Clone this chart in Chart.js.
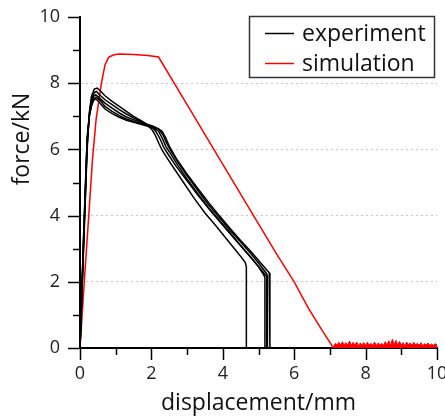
<!DOCTYPE html>
<html>
<head>
<meta charset="utf-8">
<script src="https://cdn.jsdelivr.net/npm/chart.js@4"></script>
<style>
html,body{margin:0;padding:0;background:#fff;}
#wrap{position:relative;width:445px;height:419px;}
</style>
</head>
<body>
<div id="wrap"><canvas id="c" width="445" height="419"></canvas></div>
<script>
// ---- data ----
const xTicks = [0, 2, 4, 6, 8, 10];
const yTicks = [0, 2, 4, 6, 8, 10];
const seriesNames = ['experiment', 'simulation'];

const exp1X = [0,0.1,0.2,0.26,0.32,0.4,0.48,0.56,0.7,0.9,1.1,1.3,1.5,1.7,1.9,2.05,2.2,2.3,2.4,2.5,2.7,3.0,3.3,3.6,3.9,4.2,4.5,4.8,5.1,5.3,5.32,5.32];
const exp1Y = [0,3.0,6.0,7.1,7.6,7.82,7.85,7.78,7.62,7.45,7.3,7.15,7.0,6.88,6.74,6.66,6.62,6.55,6.35,6.1,5.72,5.25,4.82,4.4,4.0,3.62,3.25,2.9,2.52,2.27,2.2,0];

const exp2X = [0,0.1,0.2,0.26,0.32,0.4,0.46,0.54,0.7,0.9,1.1,1.3,1.5,1.7,1.9,2.05,2.2,2.32,2.42,2.55,2.75,3.0,3.3,3.6,3.9,4.2,4.5,4.8,5.05,5.22,5.25,5.25];
const exp2Y = [0,3.1,6.1,7.05,7.5,7.72,7.75,7.66,7.5,7.35,7.2,7.07,6.95,6.85,6.75,6.7,6.62,6.45,6.2,5.95,5.6,5.2,4.76,4.33,3.94,3.56,3.2,2.83,2.5,2.26,2.18,0];

const exp3X = [0,0.1,0.2,0.26,0.32,0.38,0.44,0.52,0.7,0.9,1.1,1.3,1.5,1.7,1.9,2.05,2.2,2.3,2.4,2.55,2.75,3.0,3.3,3.6,3.9,4.2,4.5,4.8,5.0,5.15,5.18,5.18];
const exp3Y = [0,3.2,6.2,7.0,7.4,7.6,7.65,7.58,7.4,7.25,7.1,6.98,6.9,6.82,6.73,6.66,6.55,6.35,6.1,5.85,5.5,5.1,4.66,4.24,3.86,3.48,3.1,2.72,2.45,2.2,2.12,0];

const exp4X = [0,0.1,0.2,0.26,0.32,0.38,0.45,0.55,0.7,0.9,1.1,1.3,1.5,1.7,1.9,2.05,2.15,2.25,2.35,2.5,2.7,3.0,3.3,3.6,3.9,4.2,4.5,4.8,5.05,5.2,5.23,5.23];
const exp4Y = [0,3.3,6.3,7.0,7.35,7.52,7.58,7.5,7.3,7.15,7.02,6.92,6.85,6.78,6.72,6.64,6.5,6.3,6.05,5.8,5.48,5.05,4.62,4.22,3.84,3.46,3.09,2.72,2.4,2.2,2.14,0];

const exp5X = [0,0.1,0.2,0.26,0.32,0.38,0.44,0.52,0.7,0.9,1.1,1.3,1.5,1.7,1.9,2.0,2.1,2.2,2.3,2.45,2.65,2.9,3.2,3.5,3.8,4.1,4.35,4.55,4.63,4.66,4.66];
const exp5Y = [0,3.4,6.35,7.0,7.3,7.48,7.53,7.45,7.22,7.08,6.97,6.88,6.82,6.76,6.7,6.62,6.45,6.2,5.98,5.72,5.4,5.0,4.52,4.08,3.7,3.3,2.97,2.7,2.58,2.45,0];

const simX = [0,0.12,0.245,0.35,0.45,0.6,0.7,0.8,0.95,1.1,1.5,1.9,2.2,3.0,4.0,5.0,5.5,6.0,6.4,6.8,7.1];
const simY = [0,2.0,4.0,5.7,6.9,8.0,8.55,8.78,8.86,8.88,8.87,8.84,8.79,7.35,5.55,3.75,2.85,2.0,1.2,0.5,0.0];

const noiseX = [7.10,7.15,7.20,7.25,7.30,7.35,7.40,7.45,7.50,7.55,7.60,7.65,7.70,7.75,7.80,7.85,7.90,7.95,8.00,8.05,8.10,8.15,8.20,8.25,8.30,8.35,8.40,8.45,8.50,8.55,8.60,8.65,8.70,8.75,8.80,8.85,8.90,8.95,9.00,9.05,9.10,9.15,9.20,9.25,9.30,9.35,9.40,9.45,9.50,9.55,9.60,9.65,9.70,9.75,9.80,9.85,9.90,9.95,10.00];
const noiseY = [0.02,0.14,0.08,0.17,0.09,0.19,0.08,0.16,0.10,0.21,0.08,0.17,0.09,0.18,0.07,0.15,0.10,0.16,0.08,0.17,0.09,0.14,0.08,0.18,0.07,0.15,0.10,0.14,0.08,0.19,0.09,0.22,0.08,0.27,0.10,0.23,0.08,0.20,0.09,0.16,0.07,0.18,0.10,0.15,0.08,0.17,0.09,0.14,0.08,0.16,0.07,0.13,0.09,0.15,0.08,0.12,0.08,0.13,0.09];

// ---- build datasets ----
function pts(xs, ys) { return xs.map((x, i) => ({ x: x, y: ys[i] })); }
const expSets = [[exp1X, exp1Y], [exp2X, exp2Y], [exp3X, exp3Y], [exp4X, exp4Y], [exp5X, exp5Y]];
const datasets = expSets.map((s, i) => ({
  label: seriesNames[0] + ' ' + (i + 1),
  data: pts(s[0], s[1]),
  borderColor: '#000000',
  borderWidth: 1.5,
  pointRadius: 0,
  tension: 0,
  fill: false
}));
datasets.push({
  label: seriesNames[1],
  data: pts(simX, simY),
  borderColor: '#ff0000',
  borderWidth: 1.5,
  pointRadius: 0,
  tension: 0,
  fill: false
});
datasets.push({
  label: seriesNames[1] + ' (noise)',
  data: pts(noiseX, noiseY),
  borderColor: '#ff0000',
  backgroundColor: '#ff0000',
  borderWidth: 1,
  pointRadius: 0,
  tension: 0,
  fill: 'origin'
});

const FONT = '"Open Sans", "DejaVu Sans", sans-serif';

// ticks (major + minor), axis titles and boxed legend
const decor = {
  id: 'decor',
  afterDraw(chart) {
    const ctx = chart.ctx;
    const xs = chart.scales.x, ys = chart.scales.y;
    const ca = chart.chartArea;
    ctx.save();
    ctx.strokeStyle = '#000';
    ctx.lineWidth = 1.5;
    for (let v = 0; v <= 10; v++) {
      const major = xTicks.includes(v);
      const len = major ? 12 : 7;
      const px = Math.round(xs.getPixelForValue(v)) + 0.5;
      ctx.beginPath(); ctx.moveTo(px, ca.bottom); ctx.lineTo(px, ca.bottom + len); ctx.stroke();
    }
    for (let v = 0; v <= 10; v++) {
      const major = yTicks.includes(v);
      const len = major ? 12 : 7;
      const py = Math.round(ys.getPixelForValue(v)) + 0.5;
      ctx.beginPath(); ctx.moveTo(ca.left, py); ctx.lineTo(ca.left - len, py); ctx.stroke();
    }
    // axis titles
    ctx.fillStyle = '#111';
    ctx.font = '23px ' + FONT;
    ctx.textAlign = 'center';
    ctx.textBaseline = 'alphabetic';
    ctx.fillText('displacement/mm', (ca.left + ca.right) / 2, 410);
    ctx.save();
    ctx.translate(29, 139);
    ctx.rotate(-Math.PI / 2);
    ctx.fillText('force/kN', 0, 0);
    ctx.restore();
    // legend box
    ctx.strokeStyle = '#333';
    ctx.lineWidth = 1.5;
    ctx.strokeRect(249.5, 16.5, 185, 61);
    const rows = [[seriesNames[0], '#000000', 33], [seriesNames[1], '#ff0000', 63]];
    ctx.font = '23px ' + FONT;
    ctx.textAlign = 'left';
    ctx.textBaseline = 'middle';
    rows.forEach(r => {
      ctx.strokeStyle = r[1];
      ctx.lineWidth = 1.5;
      ctx.beginPath(); ctx.moveTo(265, r[2] + 0.5); ctx.lineTo(294, r[2] + 0.5); ctx.stroke();
      ctx.fillStyle = '#111';
      ctx.fillText(r[0], 302, r[2] + 1);
    });
    ctx.restore();
  }
};

function noPad(s) { s.paddingTop = 0; s.paddingBottom = 0; s.paddingLeft = 0; s.paddingRight = 0; }

new Chart(document.getElementById('c'), {
  type: 'line',
  data: { datasets: datasets },
  options: {
    responsive: false,
    animation: false,
    devicePixelRatio: 1,
    layout: { padding: { top: 17, right: 8, left: 0, bottom: 0 } },
    plugins: { legend: { display: false }, tooltip: { enabled: false } },
    scales: {
      x: {
        type: 'linear', min: 0, max: 10,
        afterFit(s) { s.height = 71; noPad(s); },
        border: { display: true, color: '#000', width: 2 },
        grid: { drawOnChartArea: false, drawTicks: false },
        ticks: {
          stepSize: 1, autoSkip: false, maxRotation: 0, padding: 15,
          color: '#222', font: { family: FONT, size: 18 },
          callback: v => (xTicks.includes(v) ? String(v) : '')
        }
      },
      y: {
        type: 'linear', min: 0, max: 10,
        afterFit(s) { s.width = 80; noPad(s); },
        border: { display: true, color: '#000', width: 2, dash: [2, 3] },
        grid: {
          drawTicks: false,
          lineWidth: 1,
          color: c => ([2, 4, 6, 8].includes(c.tick && c.tick.value) ? '#c8c8c8' : 'rgba(0,0,0,0)')
        },
        ticks: {
          stepSize: 1, autoSkip: false, padding: 20,
          color: '#222', font: { family: FONT, size: 18 },
          callback: v => (yTicks.includes(v) ? String(v) : '')
        }
      }
    }
  },
  plugins: [decor]
});
</script>
</body>
</html>
